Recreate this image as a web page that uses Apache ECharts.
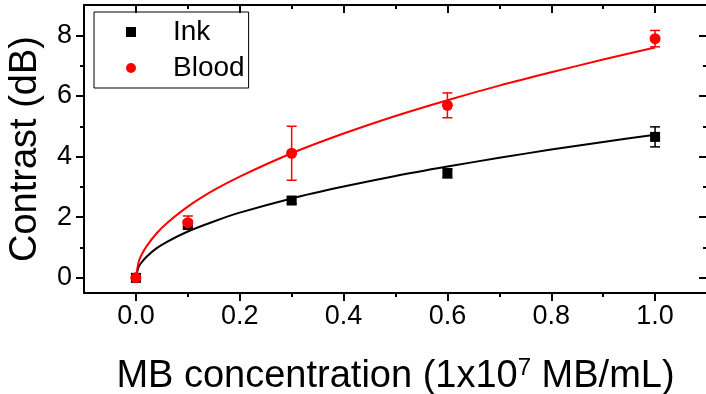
<!DOCTYPE html>
<html>
<head>
<meta charset="utf-8">
<script src="https://cdn.jsdelivr.net/npm/echarts@6/dist/echarts.min.js"></script>
<style>
  html, body { margin: 0; padding: 0; background: #fff; }
  #chart { width: 706px; height: 394px; }
</style>
</head>
<body>
<div id="chart"></div>
<script>
// measured points
var concentrations = [0, 0.1, 0.3, 0.6, 1.0];
var inkValues = [0, 1.75, 2.55, 3.45, 4.65];
var inkErrors = [0, 0.12, 0.1, 0.15, 0.33];
var bloodValues = [0, 1.82, 4.11, 5.69, 7.89];
var bloodErrors = [0, 0.22, 0.89, 0.41, 0.27];

// fitted curves
var fitX = [0, 0.005, 0.01, 0.02, 0.04, 0.06, 0.1, 0.15, 0.2, 0.3, 0.4, 0.5, 0.6, 0.7, 0.8, 0.9, 1.0];
var inkFit = [0, 0.35, 0.49, 0.69, 0.98, 1.19, 1.53, 1.86, 2.15, 2.62, 3.01, 3.36, 3.67, 3.96, 4.23, 4.48, 4.72];
var bloodFit = [0, 0.51, 0.73, 1.03, 1.47, 1.81, 2.35, 2.89, 3.34, 4.11, 4.76, 5.34, 5.86, 6.34, 6.78, 7.20, 7.60];

// ticks
var xMajorTicks = [0, 0.2, 0.4, 0.6, 0.8, 1.0];
var xMinorTicks = [0.1, 0.3, 0.5, 0.7, 0.9];
var yMajorTicks = [0, 2, 4, 6, 8];
var yMinorTicks = [1, 3, 5, 7];

var FONT = 'Liberation Sans, Arial, sans-serif';

function zip(xs, ys) {
  return xs.map(function (x, i) { return [x, ys[i]]; });
}
function errData(xs, ys, es) {
  return xs.map(function (x, i) { return [x, ys[i] - es[i], ys[i] + es[i]]; });
}

function errorBars(color) {
  return function (params, api) {
    var x = api.value(0);
    var top = api.coord([x, api.value(2)]);
    var bot = api.coord([x, api.value(1)]);
    var st = { stroke: color, lineWidth: 1.5 };
    return {
      type: 'group',
      children: [
        { type: 'line', shape: { x1: top[0], y1: top[1], x2: bot[0], y2: bot[1] }, style: st },
        { type: 'line', shape: { x1: top[0] - 5, y1: top[1], x2: top[0] + 5, y2: top[1] }, style: st },
        { type: 'line', shape: { x1: bot[0] - 5, y1: bot[1], x2: bot[0] + 5, y2: bot[1] }, style: st }
      ]
    };
  };
}

function xAxis(pos, ticks, len, labels, show) {
  return {
    type: 'value', position: pos, min: -0.1, max: 1.1,
    axisLine: { show: show, onZero: false, lineStyle: { color: '#000', width: 2 } },
    axisTick: { show: true, customValues: ticks, length: len, inside: pos === 'top', lineStyle: { color: '#000', width: 2 } },
    axisLabel: labels ? {
      show: true, customValues: ticks, margin: 10, color: '#000', fontSize: 27, fontFamily: FONT,
      formatter: function (v) { return v.toFixed(1); }
    } : { show: false },
    splitLine: { show: false }
  };
}

function yAxis(pos, ticks, len, labels, show) {
  return {
    type: 'value', position: pos, min: -0.5, max: 9,
    axisLine: { show: show, onZero: false, lineStyle: { color: '#000', width: 2 } },
    axisTick: { show: true, customValues: ticks, length: len, inside: pos === 'right', lineStyle: { color: '#000', width: 2 } },
    axisLabel: labels ? {
      show: true, customValues: ticks, margin: 12, color: '#000', fontSize: 27, fontFamily: FONT
    } : { show: false },
    splitLine: { show: false }
  };
}

var xAxes = [
  xAxis('bottom', xMajorTicks, 8, true, true),
  xAxis('bottom', xMinorTicks, 4, false, false),
  xAxis('top', xMajorTicks, 8, false, true),
  xAxis('top', xMinorTicks, 4, false, false)
];
xAxes[0].name = 'MB concentration (1x10{sup|7} MB/mL)';
xAxes[0].nameLocation = 'middle';
xAxes[0].nameGap = 63;
xAxes[0].nameTextStyle = {
  color: '#000', fontSize: 38, fontFamily: FONT,
  rich: { sup: { fontSize: 24, fontFamily: FONT, color: '#000', padding: [0, 0, 18, 0] } }
};

var yAxes = [
  yAxis('left', yMajorTicks, 8, true, true),
  yAxis('left', yMinorTicks, 4, false, false),
  yAxis('right', yMajorTicks, 8, false, true),
  yAxis('right', yMinorTicks, 4, false, false)
];
yAxes[0].name = 'Contrast (dB)';
yAxes[0].nameLocation = 'middle';
yAxes[0].nameGap = 39;
yAxes[0].nameTextStyle = { color: '#000', fontSize: 38, fontFamily: FONT };

var chart = echarts.init(document.getElementById('chart'), null, { renderer: 'canvas' });
chart.setOption({
  animation: false,
  backgroundColor: '#fff',
  grid: { left: 84, right: -1, top: 5, bottom: 101, containLabel: false, outerBoundsMode: 'none' },
  xAxis: xAxes,
  yAxis: yAxes,
  legend: {
    orient: 'vertical', left: 94, top: 12,
    data: [{ name: 'Ink', icon: 'rect' }, { name: 'Blood', icon: 'circle' }],
    itemWidth: 10, itemHeight: 10, itemGap: 6,
    padding: [5, 4, 5, 32],
    borderColor: '#000', borderWidth: 1, borderRadius: 0,
    textStyle: { color: '#000', fontSize: 28, lineHeight: 30, fontFamily: FONT, padding: [0, 0, 0, 32] }
  },
  series: [
    { name: 'Ink fit', type: 'line', data: zip(fitX, inkFit), smooth: 0.3,
      showSymbol: false, lineStyle: { color: '#000', width: 2 }, z: 1 },
    { name: 'Blood fit', type: 'line', data: zip(fitX, bloodFit), smooth: 0.3,
      showSymbol: false, lineStyle: { color: '#ff0000', width: 2 }, z: 1 },
    { name: 'Ink err', type: 'custom', data: errData(concentrations, inkValues, inkErrors),
      renderItem: errorBars('#000'), z: 2 },
    { name: 'Blood err', type: 'custom', data: errData(concentrations, bloodValues, bloodErrors),
      renderItem: errorBars('#ff0000'), z: 3 },
    { name: 'Ink', type: 'scatter', data: zip(concentrations, inkValues), symbol: 'rect', symbolSize: 10,
      itemStyle: { color: '#000', opacity: 1 }, z: 4 },
    { name: 'Blood', type: 'scatter', data: zip(concentrations, bloodValues), symbol: 'circle', symbolSize: 11,
      itemStyle: { color: '#ff0000', opacity: 1 }, z: 5 }
  ]
});
</script>
</body>
</html>
